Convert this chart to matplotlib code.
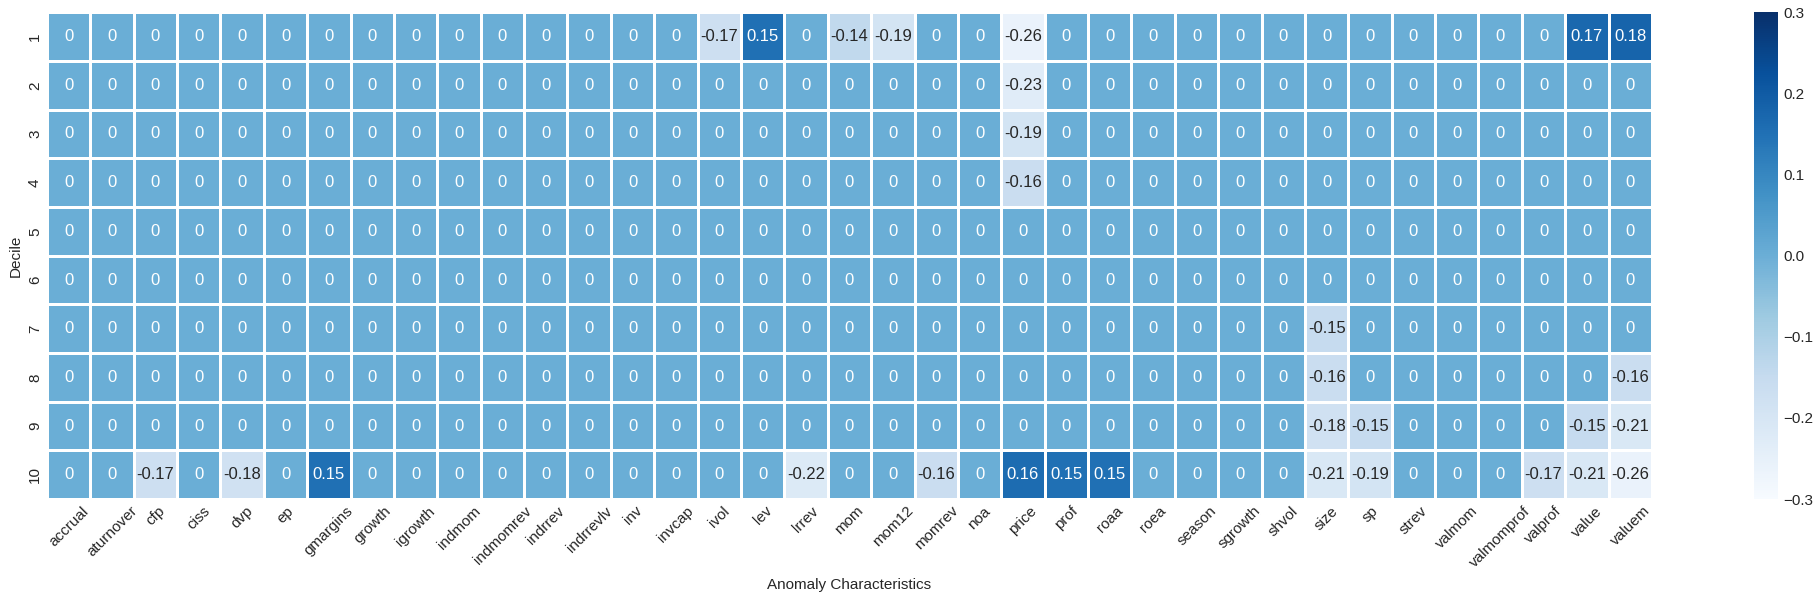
import numpy as np
import pandas as pd
import matplotlib
matplotlib.use("Agg")
import matplotlib.pyplot as plt
import seaborn as sns

# anomaly names along the x axis
anomalies = ['accrual', 'aturnover', 'cfp', 'ciss', 'dvp', 'ep', 'gmargins', 'growth',
             'igrowth', 'indmom', 'indmomrev', 'indrrev', 'indrrevlv', 'inv', 'invcap',
             'ivol', 'lev', 'lrrev', 'mom', 'mom12', 'momrev', 'noa', 'price', 'prof',
             'roaa', 'roea', 'season', 'sgrowth', 'shvol', 'size', 'sp', 'strev',
             'valmom', 'valmomprof', 'valprof', 'value', 'valuem']
deciles = [1, 2, 3, 4, 5, 6, 7, 8, 9, 10]

# one list per decile, same order as anomalies
d1 = [0, 0, 0, 0, 0, 0, 0, 0, 0, 0, 0, 0, 0, 0, 0, -0.17, 0.15, 0, -0.14, -0.19, 0, 0, -0.26, 0,
      0, 0, 0, 0, 0, 0, 0, 0, 0, 0, 0, 0.17, 0.18]
d2 = [0, 0, 0, 0, 0, 0, 0, 0, 0, 0, 0, 0, 0, 0, 0, 0, 0, 0, 0, 0, 0, 0, -0.23, 0,
      0, 0, 0, 0, 0, 0, 0, 0, 0, 0, 0, 0, 0]
d3 = [0, 0, 0, 0, 0, 0, 0, 0, 0, 0, 0, 0, 0, 0, 0, 0, 0, 0, 0, 0, 0, 0, -0.19, 0,
      0, 0, 0, 0, 0, 0, 0, 0, 0, 0, 0, 0, 0]
d4 = [0, 0, 0, 0, 0, 0, 0, 0, 0, 0, 0, 0, 0, 0, 0, 0, 0, 0, 0, 0, 0, 0, -0.16, 0,
      0, 0, 0, 0, 0, 0, 0, 0, 0, 0, 0, 0, 0]
d5 = [0] * 37
d6 = [0] * 37
d7 = [0, 0, 0, 0, 0, 0, 0, 0, 0, 0, 0, 0, 0, 0, 0, 0, 0, 0, 0, 0, 0, 0, 0, 0,
      0, 0, 0, 0, 0, -0.15, 0, 0, 0, 0, 0, 0, 0]
d8 = [0, 0, 0, 0, 0, 0, 0, 0, 0, 0, 0, 0, 0, 0, 0, 0, 0, 0, 0, 0, 0, 0, 0, 0,
      0, 0, 0, 0, 0, -0.16, 0, 0, 0, 0, 0, 0, -0.16]
d9 = [0, 0, 0, 0, 0, 0, 0, 0, 0, 0, 0, 0, 0, 0, 0, 0, 0, 0, 0, 0, 0, 0, 0, 0,
      0, 0, 0, 0, 0, -0.18, -0.15, 0, 0, 0, 0, -0.15, -0.21]
d10 = [0, 0, -0.17, 0, -0.18, 0, 0.15, 0, 0, 0, 0, 0, 0, 0, 0, 0, 0, -0.22, 0, 0, -0.16, 0, 0.16, 0.15,
       0.15, 0, 0, 0, 0, -0.21, -0.19, 0, 0, 0, -0.17, -0.21, -0.26]

df = pd.DataFrame([d1, d2, d3, d4, d5, d6, d7, d8, d9, d10], index=deciles, columns=anomalies)

sns.set_theme(style="white")
plt.rcParams['font.family'] = ['Liberation Sans', 'DejaVu Sans']

fig = plt.figure(figsize=(18.19, 5.95), dpi=100)
ax = fig.add_axes([0.0258, 0.1613, 0.8824, 0.818])
cax = fig.add_axes([0.9643, 0.1613, 0.0132, 0.818])

sns.heatmap(df, ax=ax, cbar_ax=cax, cmap="Blues", vmin=-0.3, vmax=0.3,
            annot=True, annot_kws={"size": 12}, linewidths=1, linecolor="white")

ax.set_xlabel("Anomaly Characteristics", fontsize=11, labelpad=6)
ax.set_ylabel("Decile", fontsize=11)
ax.tick_params(axis='x', labelsize=11, rotation=45, length=0)
ax.tick_params(axis='y', labelsize=11, rotation=90, length=0)
cax.tick_params(labelsize=11, length=0)

plt.savefig("out.png", dpi=100)
